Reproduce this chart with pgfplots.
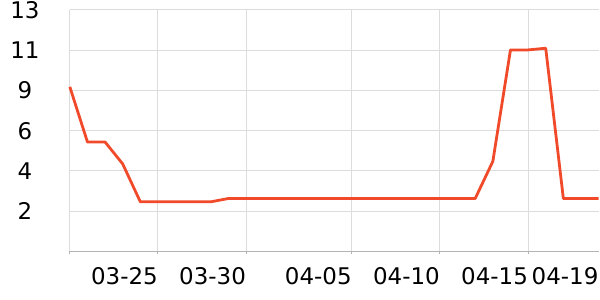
\documentclass[border=0pt]{standalone}
\usepackage{pgfplots}
\pgfplotsset{compat=1.18}
\usepackage{fontspec}
\setmainfont{DejaVu Sans}
\definecolor{linec}{RGB}{240,74,42}
\definecolor{gridc}{RGB}{220,220,220}
\definecolor{axisc}{RGB}{180,180,180}
\begin{document}
\fontsize{23bp}{27bp}\selectfont
\begin{tikzpicture}
\begin{axis}[
  scale only axis,
  width=530bp, height=242bp,
  xmin=0, xmax=30, ymin=0, ymax=13,
  axis x line=bottom, axis y line=left,
  x axis line style={axisc, line width=1bp, -},
  y axis line style={gridc, line width=1bp, -},
  xtick={0,5,10,16,21,26},
  xticklabels={,03-25,03-30,04-05,04-10,04-15},
  extra x ticks={30},
  extra x tick labels={04-19},
  extra x tick style={grid=none, tick style={draw=none}},
  ytick={0,2.1667,4.3333,6.5,8.6667,10.8333,13},
  yticklabels={,2,4,6,9,11,13},
  xmajorgrids, ymajorgrids,
  grid style={gridc, line width=1bp},
  tick align=outside,
  major tick length=3bp,
  xtick style={axisc, line width=1bp},
  ytick style={draw=none},
  /pgf/number format/assume math mode=true,
  xticklabel style={anchor=north east, inner sep=0pt, yshift=-13bp},
  yticklabel style={anchor=center, inner sep=0pt, xshift=-42bp},
  clip=false,
]
\addplot[linec, line width=2.8bp, line join=round, mark=none] coordinates {
(0,8.86) (1,5.89) (2,5.89) (3,4.71) (4,2.67) (5,2.67) (6,2.67) (7,2.67) (8,2.67) (9,2.85)
(10,2.85) (11,2.85) (12,2.85) (13,2.85) (14,2.85) (15,2.85) (16,2.85) (17,2.85) (18,2.85) (19,2.85)
(20,2.85) (21,2.85) (22,2.85) (23,2.85) (24,4.85) (25,10.85) (26,10.85) (27,10.94) (28,2.85) (29,2.85) (30,2.85)
};
\end{axis}
\path (current axis.south west) ++(-70bp,-48bp) (current axis.north east) ++(0bp,10bp);
\end{tikzpicture}
\end{document}
